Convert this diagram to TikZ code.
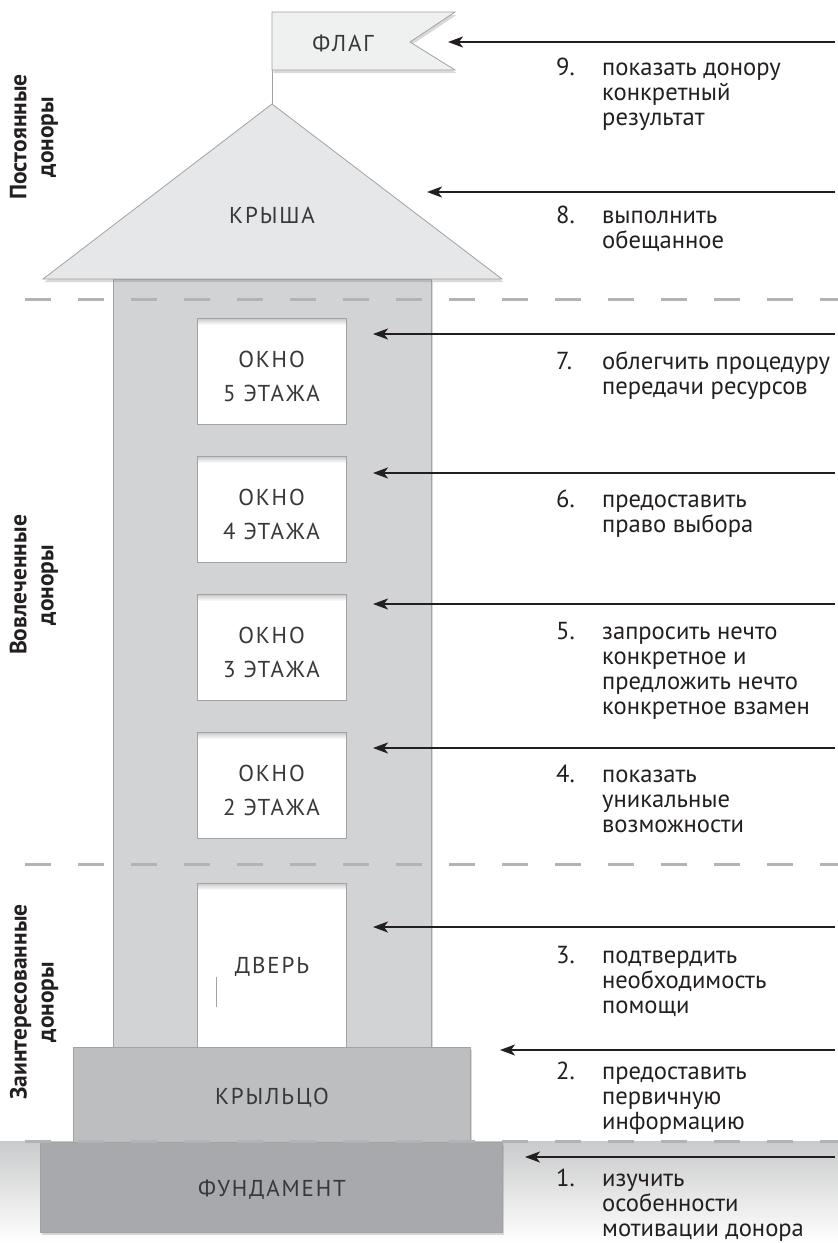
\documentclass[tikz,border=0pt]{standalone}
\usepackage{fontspec}
\setmainfont{PT Sans}
\newfontfamily\partfont[LetterSpace=8]{PT Sans}
\usetikzlibrary{arrows.meta,shadows}

\definecolor{towergray}{HTML}{D1D3D4}
\definecolor{roofgray}{HTML}{E6E7E8}
\definecolor{flaggray}{HTML}{EFF0F0}
\definecolor{porchgray}{HTML}{BCBEC0}
\definecolor{basegray}{HTML}{A7A9AC}
\definecolor{edgegray}{HTML}{A0A2A5}
\definecolor{dashgray}{HTML}{B1B3B6}
\definecolor{groundgray}{HTML}{C9CACB}
\definecolor{inkblack}{HTML}{231F20}
\definecolor{labelgray}{HTML}{38383A}

\newcommand{\steplines}[1]{\begin{tabular}[t]{@{}l@{}}#1\end{tabular}}

\tikzset{
    part/.style={draw=edgegray, line width=0.8pt},
    softshadow/.style={drop shadow={opacity=0.3, shadow xshift=1.5pt, shadow yshift=-3pt}},
    partlabel/.style={font=\fontsize{23}{34}\partfont, text=labelgray, align=center},
    level/.style={dashgray, line width=3pt, dash pattern=on 26pt off 27pt},
    pointer/.style={inkblack, line width=1.8pt, -{Stealth[length=15pt,width=11pt,inset=4pt]}},
    stepnum/.style={font=\fontsize{24.6}{25}\selectfont, text=inkblack, anchor=base west, inner sep=0pt},
    steptext/.style={font=\fontsize{24.6}{25}\selectfont, text=inkblack, anchor=base west, inner sep=0pt},
    groupname/.style={font=\fontsize{23.5}{27}\selectfont\bfseries, text=inkblack, rotate=90, align=center, inner sep=0pt}
}

\begin{document}
\begin{tikzpicture}[x=1pt, y=-1pt]
    \useasboundingbox (0,0) rectangle (838,1243);
    \shade[top color=groundgray, bottom color=white] (0,1141) rectangle (838,1243);

    \draw[part, fill=towergray, softshadow] (113,279) rectangle (431,1047);
    \foreach \k/\y in {5/318, 4/456, 3/594, 2/732} {
        \fill[white] (197,\y) rectangle (346,\y+106);
        \shade[top color=black!22, bottom color=white] (197,\y) rectangle (346,\y+7);
        \draw[part] (197,\y) rectangle (346,\y+106);
        \node[partlabel] (w\k) at (271.5,\y+58) {ОКНО\\{\k} ЭТАЖА};
    }
    \fill[white] (197,883) rectangle (346,1047);
    \shade[top color=black!22, bottom color=white] (197,883) rectangle (346,890);
    \draw[part] (197,1047) -- (197,883) -- (346,883) -- (346,1047);
    \draw[edgegray, line width=0.8pt] (216,977) -- (216,1007);
    \node[partlabel] (door) at (272,967) {ДВЕРЬ};

    \draw[part, fill=porchgray, softshadow] (73,1047) rectangle (470,1142);
    \node[partlabel] (porch) at (272,1098) {КРЫЛЬЦО};
    \draw[part, fill=basegray, softshadow] (40,1142) rectangle (502,1232);
    \node[partlabel] (base) at (272,1190) {ФУНДАМЕНТ};

    \draw[part, fill=roofgray, softshadow] (43,279) -- (272,104) -- (502,279) -- cycle;
    \node[partlabel] (roof) at (272,215) {КРЫША};
    \draw[edgegray, line width=1pt] (272,70) -- (272,104);
    \draw[part, fill=flaggray, softshadow]
      (272,12) -- (455,12) -- (410,42) -- (455,70) -- (272,70) -- cycle;
    \node[partlabel] (flag) at (343,43) {ФЛАГ};

    \foreach \y in {299, 864, 1141} {
        \draw[level] (25,\y) -- (838,\y);
    }

    \foreach \k/\ya/\xa/\yb/\txt in {
        9/42/448/75/{показать донору\\конкретный\\результат},
        8/192/427/223/{выполнить\\обещанное},
        7/334/373/369/{облегчить процедуру\\передачи ресурсов},
        6/473/373/507/{предоставить\\право выбора},
        5/604/373/639/{запросить нечто\\конкретное и\\предложить нечто\\конкретное взамен},
        4/748/373/782/{показать\\уникальные\\возможности},
        3/927/373/963/{подтвердить\\необходимость\\помощи},
        2/1050/500/1079/{предоставить\\первичную\\информацию},
        1/1157/525/1186/{изучить\\особенности\\мотивации донора}} {
        \coordinate (s\k) at (835,\ya);
        \coordinate (e\k) at (\xa,\ya);
        \draw[pointer] (s\k) -- (e\k);
        \node[stepnum] (n\k) at (556,\yb) {\k.};
        \node[steptext] (t\k) at (602,\yb) {\steplines{\txt}};
    }

    \node[groupname] (g3) at (34,137) {Постоянные\\доноры};
    \node[groupname] (g2) at (34,585) {Вовлеченные\\доноры};
    \node[groupname] (g1) at (34,1002) {Заинтересованные\\доноры};
\end{tikzpicture}
\end{document}
